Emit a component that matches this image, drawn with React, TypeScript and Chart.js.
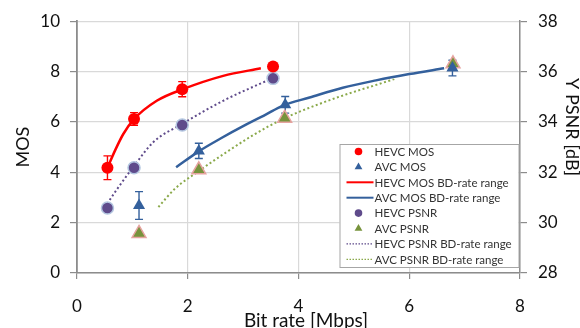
import { useEffect, useRef } from 'react';
import { Chart, registerables } from 'chart.js';
Chart.register(...registerables);

// Measured points
const hevcMosRate = [0.55, 1.03, 1.9, 3.54];
const hevcMos = [4.18, 6.12, 7.3, 8.2];
const hevcMosErr = [0.47, 0.25, 0.3, 0.12];

const avcMosRate = [1.12, 2.2, 3.76, 6.78];
const avcMos = [2.68, 4.85, 6.68, 8.14];
const avcMosErr = [0.55, 0.3, 0.33, 0.31];

const hevcPsnrRate = [0.55, 1.03, 1.9, 3.54];
const hevcPsnr = [30.58, 32.18, 33.88, 35.73];

const avcPsnrRate = [1.12, 2.2, 3.75, 6.79];
const avcPsnr = [29.57, 32.1, 34.15, 36.31];

// BD-rate fitted curves
const hevcMosCurveRate = [0.55, 0.686, 0.836, 1.03, 1.44, 1.91, 2.64, 3.32];
const hevcMosCurve = [4.18, 4.86, 5.52, 6.11, 6.84, 7.3, 7.83, 8.13];

const avcMosCurveRate = [1.79, 2.22, 2.6, 3.0, 3.4, 3.72, 4.2, 4.8, 5.4, 6.0, 6.63];
const avcMosCurve = [4.2, 4.86, 5.35, 5.83, 6.28, 6.65, 6.97, 7.36, 7.65, 7.9, 8.13];

const hevcPsnrCurveRate = [0.59, 0.746, 1.03, 1.38, 1.9, 2.64, 3.45];
const hevcPsnrCurve = [30.9, 31.4, 32.25, 33.2, 33.92, 34.84, 35.66];

const avcPsnrCurveRate = [1.47, 1.77, 2.2, 2.7, 3.2, 3.75, 4.3, 4.87, 5.3, 5.73];
const avcPsnrCurve = [30.62, 31.35, 32.05, 32.8, 33.5, 34.15, 34.65, 35.1, 35.4, 35.7];

const xTitle = 'Bit rate [Mbps]';
const yTitle = 'MOS';
const y2Title = 'Y PSNR [dB]';

const FONT = 'Lato, "Liberation Sans", sans-serif';
const TEXT = '#111111';
const AXIS = '#8c8c8c';
const GRID = '#d9d9d9';

const RED = '#ff0000';
const BLUE = '#34609c';
const PURPLE = '#5f4b8b';
const GREEN = '#77933c';
const GREEN_LINE = '#8aa94a';

const pts = (xs: number[], ys: number[]) => xs.map((x, i) => ({ x, y: ys[i] }));

const errorBarPlugin = {
  id: 'errorBars',
  beforeDatasetsDraw(chart: any) {
    const { ctx, scales } = chart;
    chart.data.datasets.forEach((ds: any) => {
      const err = ds.errorBars;
      if (!err) return;
      const ys = scales[ds.yAxisID || 'y'];
      ctx.save();
      ctx.strokeStyle = ds.errorColor;
      ctx.lineWidth = 1.4;
      ds.data.forEach((p: any, j: number) => {
        const x = scales.x.getPixelForValue(p.x);
        const yt = ys.getPixelForValue(p.y + err[j]);
        const yb = ys.getPixelForValue(p.y - err[j]);
        ctx.beginPath();
        ctx.moveTo(x, yt); ctx.lineTo(x, yb);
        ctx.moveTo(x - 4, yt); ctx.lineTo(x + 4, yt);
        ctx.moveTo(x - 4, yb); ctx.lineTo(x + 4, yb);
        ctx.stroke();
      });
      ctx.restore();
    });
  },
};

const legendPlugin = {
  id: 'insideLegend',
  afterDraw(chart: any) {
    const { ctx, chartArea } = chart;
    const w = 179, h = 123;
    const left = chartArea.right - 1.5 - w;
    const top = chartArea.bottom - 6 - h;
    ctx.save();
    ctx.fillStyle = '#ffffff';
    ctx.fillRect(left, top, w, h);
    ctx.strokeStyle = '#a6a6a6';
    ctx.lineWidth = 1;
    ctx.strokeRect(left + 0.5, top + 0.5, w, h);
    ctx.font = `11.5px ${FONT}`;
    ctx.textBaseline = 'middle';
    ctx.textAlign = 'left';
    chart.data.datasets.forEach((ds: any, i: number) => {
      const y = top + 7.5 + i * 15.4;
      const mx = left + 19;
      if (ds.showLine) {
        ctx.save();
        ctx.strokeStyle = ds.borderColor;
        ctx.lineWidth = ds.borderDash ? 1.3 : 2;
        ctx.setLineDash(ds.borderDash ? [1.5, 1.5] : []);
        ctx.beginPath();
        ctx.moveTo(left + 7, y);
        ctx.lineTo(left + 34, y);
        ctx.stroke();
        ctx.restore();
      } else {
        ctx.save();
        ctx.fillStyle = ds.backgroundColor;
        ctx.beginPath();
        if (ds.pointStyle === 'triangle') {
          const r = 4.5;
          ctx.moveTo(mx, y - r);
          ctx.lineTo(mx + r * 0.866, y + r * 0.5);
          ctx.lineTo(mx - r * 0.866, y + r * 0.5);
          ctx.closePath();
        } else {
          ctx.arc(mx, y, 3.8, 0, Math.PI * 2);
        }
        ctx.fill();
        ctx.restore();
      }
      ctx.fillStyle = '#333333';
      ctx.fillText(ds.label, left + 35, y + 0.5);
    });
    ctx.restore();
  },
};

const titlePlugin = {
  id: 'axisTitles',
  afterDraw(chart: any) {
    const { ctx, chartArea } = chart;
    ctx.save();
    ctx.fillStyle = TEXT;
    ctx.textAlign = 'center';
    ctx.font = `19px ${FONT}`;
    // bottom title
    ctx.textBaseline = 'alphabetic';
    ctx.fillText(xTitle, 306, 326.5);
    ctx.textBaseline = 'middle';
    // left title
    ctx.save();
    ctx.translate(23.5, (chartArea.top + chartArea.bottom) / 2);
    ctx.rotate(-Math.PI / 2);
    ctx.font = `18px ${FONT}`;
    ctx.fillText(yTitle, 0, 0);
    ctx.restore();
    // right title
    ctx.save();
    ctx.translate(chart.width - 8.5, 127);
    ctx.rotate(Math.PI / 2);
    ctx.font = `18px ${FONT}`;
    ctx.fillText(y2Title, 0, 0);
    ctx.restore();
    ctx.restore();
  },
};

export default function App() {
  const ref = useRef<HTMLCanvasElement>(null);
  useEffect(() => {
    document.body.style.margin = '0';
    const canvas = ref.current!;
    const tickFont = { family: FONT, size: 17 };
    const chart = new Chart(canvas, {
      type: 'scatter',
      data: {
        datasets: [
          {
            label: 'HEVC MOS',
            data: pts(hevcMosRate, hevcMos),
            yAxisID: 'y',
            backgroundColor: RED,
            borderColor: RED,
            pointStyle: 'circle',
            pointRadius: 6,
            pointBorderWidth: 0,
            showLine: false,
            order: 0,
            errorBars: hevcMosErr,
            errorColor: RED,
          } as any,
          {
            label: 'AVC MOS',
            data: pts(avcMosRate, avcMos),
            yAxisID: 'y',
            backgroundColor: BLUE,
            borderColor: BLUE,
            pointStyle: 'triangle',
            pointRadius: 7,
            pointBorderWidth: 0,
            showLine: false,
            order: 1,
            errorBars: avcMosErr,
            errorColor: BLUE,
          } as any,
          {
            label: 'HEVC MOS BD-rate range',
            data: pts(hevcMosCurveRate, hevcMosCurve),
            yAxisID: 'y',
            borderColor: RED,
            backgroundColor: RED,
            borderWidth: 2.5,
            pointRadius: 0,
            showLine: true,
            cubicInterpolationMode: 'monotone',
            order: 5,
          } as any,
          {
            label: 'AVC MOS BD-rate range',
            data: pts(avcMosCurveRate, avcMosCurve),
            yAxisID: 'y',
            borderColor: BLUE,
            backgroundColor: BLUE,
            borderWidth: 2.5,
            pointRadius: 0,
            showLine: true,
            cubicInterpolationMode: 'monotone',
            order: 5,
          } as any,
          {
            label: 'HEVC PSNR',
            data: pts(hevcPsnrRate, hevcPsnr),
            yAxisID: 'y2',
            backgroundColor: PURPLE,
            borderColor: '#b3c6e0',
            pointStyle: 'circle',
            pointRadius: 6,
            pointBorderWidth: 1.5,
            showLine: false,
            order: 2,
          } as any,
          {
            label: 'AVC PSNR',
            data: pts(avcPsnrRate, avcPsnr),
            yAxisID: 'y2',
            backgroundColor: GREEN,
            borderColor: '#e6a3a0',
            pointStyle: 'triangle',
            pointRadius: 8,
            pointBorderWidth: 1.5,
            showLine: false,
            order: 3,
          } as any,
          {
            label: 'HEVC PSNR BD-rate range',
            data: pts(hevcPsnrCurveRate, hevcPsnrCurve),
            yAxisID: 'y2',
            borderColor: PURPLE,
            backgroundColor: PURPLE,
            borderWidth: 2,
            borderDash: [2, 2.5],
            pointRadius: 0,
            showLine: true,
            cubicInterpolationMode: 'monotone',
            order: 6,
          } as any,
          {
            label: 'AVC PSNR BD-rate range',
            data: pts(avcPsnrCurveRate, avcPsnrCurve),
            yAxisID: 'y2',
            borderColor: GREEN_LINE,
            backgroundColor: GREEN_LINE,
            borderWidth: 2,
            borderDash: [2, 2.5],
            pointRadius: 0,
            showLine: true,
            cubicInterpolationMode: 'monotone',
            order: 6,
          } as any,
        ],
      },
      options: {
        responsive: false,
        animation: false,
        events: [],
        layout: { padding: { top: 20, left: 0, right: 0, bottom: 0 } },
        plugins: {
          legend: { display: false },
          tooltip: { enabled: false },
          title: { display: false },
        },
        scales: {
          x: {
            type: 'linear',
            position: 'bottom',
            min: 0,
            max: 8,
            ticks: { stepSize: 2, padding: 17, color: TEXT, font: tickFont, maxRotation: 0 },
            grid: { color: GRID, tickColor: AXIS, tickLength: 6, lineWidth: 1.2 },
            border: { color: AXIS, width: 1.5 },
            afterFit: (s: any) => { s.height = 55; },
          },
          y: {
            type: 'linear',
            position: 'left',
            min: 0,
            max: 10,
            ticks: { stepSize: 2, padding: 10, color: TEXT, font: tickFont },
            grid: { color: GRID, tickColor: AXIS, tickLength: 7, lineWidth: 1.2 },
            border: { color: AXIS, width: 1.8 },
            afterFit: (s: any) => { s.width = 77; },
          },
          y2: {
            type: 'linear',
            position: 'right',
            min: 28,
            max: 38,
            ticks: { stepSize: 2, padding: 11, color: TEXT, font: tickFont },
            grid: { drawOnChartArea: false, tickColor: AXIS, tickLength: 7, lineWidth: 1.2 },
            border: { color: AXIS, width: 1.5 },
            afterFit: (s: any) => { s.width = 60; },
          },
        },
      } as any,
      plugins: [errorBarPlugin, legendPlugin, titlePlugin],
    });
    return () => chart.destroy();
  }, []);
  return (
    <div style={{ width: 580, height: 328 }}>
      <canvas ref={ref} width={580} height={328} style={{ display: 'block' }} />
    </div>
  );
}
